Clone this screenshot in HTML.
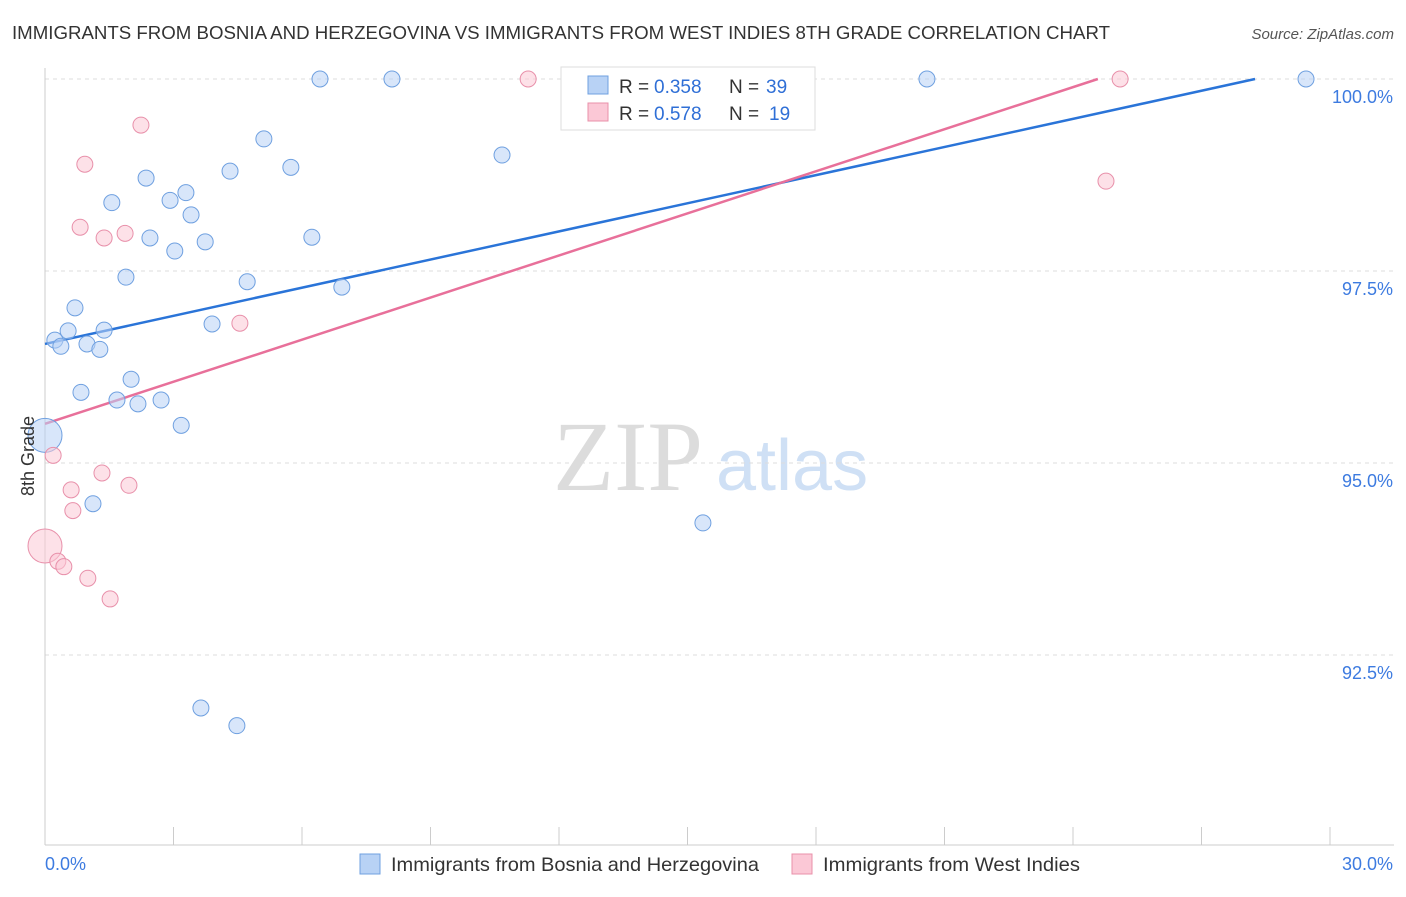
<!DOCTYPE html>
<html><head><meta charset="utf-8"><style>
body{margin:0;background:#fff;font-family:"Liberation Sans",sans-serif;}
</style></head><body>
<svg id="chart" width="1406" height="892" viewBox="0 0 1406 892" font-family="Liberation Sans, sans-serif">
<text x="12" y="39" font-size="18.4" fill="#333" textLength="1098" lengthAdjust="spacingAndGlyphs">IMMIGRANTS FROM BOSNIA AND HERZEGOVINA VS IMMIGRANTS FROM WEST INDIES 8TH GRADE CORRELATION CHART</text>
<text x="1394" y="39" font-size="15" fill="#555" font-style="italic" text-anchor="end">Source: ZipAtlas.com</text>
<g>
<text x="553" y="490" font-size="100" fill="#dcdcdc" style="font-family:'Liberation Serif',serif">ZIP</text>
<text x="716" y="490" font-size="72" fill="#cfe0f5">atlas</text>
</g>
<g id="grid"></g>
<g id="axes"></g>
<g id="lines"></g>
<g id="points"></g>
<text transform="translate(34,456) rotate(-90)" font-size="18" fill="#333" text-anchor="middle">8th Grade</text>
<g>
<rect x="561" y="67" width="254" height="63" fill="#fff" stroke="#ddd"/>
<rect x="588" y="76" width="20" height="18" fill="#b8d2f5" stroke="#6fa0e0"/>
<rect x="588" y="103" width="20" height="18" fill="#fbc8d6" stroke="#e890aa"/>
<text x="619" y="93" font-size="19" fill="#333">R =</text>
<text x="654" y="93" font-size="19" fill="#2f6fd6">0.358</text>
<text x="729" y="93" font-size="19" fill="#333">N =</text>
<text x="766" y="93" font-size="19" fill="#2f6fd6">39</text>
<text x="619" y="120" font-size="19" fill="#333">R =</text>
<text x="654" y="120" font-size="19" fill="#2f6fd6">0.578</text>
<text x="729" y="120" font-size="19" fill="#333">N =</text>
<text x="769" y="120" font-size="19" fill="#2f6fd6">19</text>
</g>
<g>
<rect x="360" y="854" width="20" height="20" fill="#b8d2f5" stroke="#6fa0e0"/>
<text x="391" y="871" font-size="19.5" fill="#333" textLength="368" lengthAdjust="spacingAndGlyphs">Immigrants from Bosnia and Herzegovina</text>
<rect x="792" y="854" width="20" height="20" fill="#fbc8d6" stroke="#e890aa"/>
<text x="823" y="871" font-size="19.5" fill="#333" textLength="257" lengthAdjust="spacingAndGlyphs">Immigrants from West Indies</text>
</g>
</svg>
<script>
const yTicks=[100,97.5,95,92.5];
const yTickLabels=["100.0%","97.5%","95.0%","92.5%"];
const xTicks=[0,3,6,9,12,15,18,21,24,27,30];
const blueX=[6.42,8.10,20.59,29.44,5.11,10.67,5.74,2.36,4.32,3.29,1.56,2.92,3.41,2.45,3.74,6.23,3.03,1.89,4.72,6.93,0.70,0.54,1.38,3.90,0.23,0.37,0.98,1.28,2.01,0.84,1.68,2.17,2.71,3.18,0,1.12,15.36,3.64,4.48];
const blueY=[100,100,100,100,99.22,99.01,98.85,98.71,98.80,98.52,98.39,98.42,98.23,97.93,97.88,97.94,97.76,97.42,97.36,97.29,97.02,96.72,96.73,96.81,96.60,96.52,96.55,96.48,96.09,95.92,95.82,95.77,95.82,95.49,95.36,94.47,94.22,91.81,91.58];
const pinkX=[11.28,25.10,2.24,0.93,24.77,0.82,1.87,1.38,4.55,0.19,1.33,1.96,0.61,0.65,0,0.30,0.44,1.00,1.52];
const pinkY=[100,100,99.40,98.89,98.67,98.07,97.99,97.93,96.82,95.10,94.87,94.71,94.65,94.38,93.92,93.72,93.65,93.50,93.23];
const blueLine=[[0,96.55],[28.25,100]];
const pinkLine=[[0,95.51],[24.58,100]];
const NS="http://www.w3.org/2000/svg";
const sx=v=>45+v/30*1285;
const sy=v=>79+(100-v)/2.5*192;
function mk(tag,attrs,parent){const e=document.createElementNS(NS,tag);for(const k in attrs)e.setAttribute(k,attrs[k]);document.getElementById(parent).appendChild(e);return e;}
yTicks.forEach((t,i)=>{
 const l=mk('line',{x1:45,x2:1394,y1:sy(t),y2:sy(t),stroke:'#ddd','stroke-dasharray':'4,4'},'grid');
 
 
 const tx=mk('text',{x:1393,y:sy(t)+24,'font-size':18,fill:'#3d7be0','text-anchor':'end'},'axes');
 tx.textContent=yTickLabels[i];
 
 
});
const ax=mk('line',{x1:45,x2:45,y1:68,y2:845,stroke:'#ccc'},'axes');


const bx=mk('line',{x1:45,x2:1394,y1:845,y2:845,stroke:'#ccc'},'axes');


xTicks.forEach(t=>{
 const l=mk('line',{x1:sx(t),x2:sx(t),y1:827,y2:845,stroke:'#ccc'},'axes');
 
 
});
const x0=mk('text',{x:45,y:870,'font-size':18,fill:'#3d7be0'},'axes');x0.textContent='0.0%';


const x1=mk('text',{x:1393,y:870,'font-size':18,fill:'#3d7be0','text-anchor':'end'},'axes');x1.textContent='30.0%';


function pts(X,Y,fill,stroke,name){
 X.forEach((x,i)=>{
  const big=(x===0);
  const c=mk('circle',{cx:sx(x),cy:sy(Y[i]),r:big?17:8,fill:fill,'fill-opacity':0.55,stroke:stroke,'stroke-width':1},'points');
  
  
 });
}
pts(blueX,blueY,'#b8d2f5','#6fa0e0','bosnia-point');
pts(pinkX,pinkY,'#fbc8d6','#e890aa','west-indies-point');
const lb=mk('line',{x1:sx(blueLine[0][0]),y1:sy(blueLine[0][1]),x2:sx(blueLine[1][0]),y2:sy(blueLine[1][1]),stroke:'#2a74d8','stroke-width':2.5},'lines');


const lp=mk('line',{x1:sx(pinkLine[0][0]),y1:sy(pinkLine[0][1]),x2:sx(pinkLine[1][0]),y2:sy(pinkLine[1][1]),stroke:'#e8709a','stroke-width':2.5},'lines');


</script>
</body></html>
